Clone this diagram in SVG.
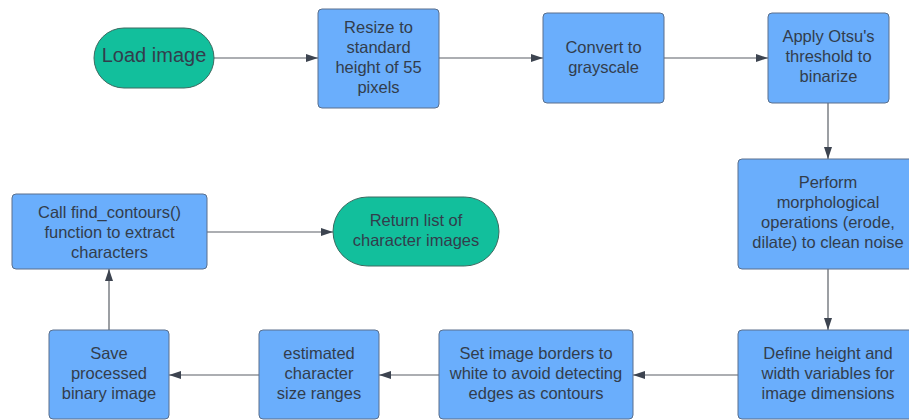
<svg xmlns="http://www.w3.org/2000/svg" width="909" height="420" viewBox="0 0 909 420">
  <defs>
    <marker id="arrow" viewBox="0 0 12 8" refX="12" refY="4" markerWidth="12" markerHeight="8" markerUnits="userSpaceOnUse" orient="auto">
      <path d="M0,0 L12,4 L0,8 Z" fill="#3d4450"/>
    </marker>
    <style>
      .box { fill: #6aaefc; stroke: #5a6f8c; stroke-width: 1; }
      .term { fill: #12bf9c; stroke: #3c6a60; stroke-width: 1; }
      .lbl { font-family: "Liberation Sans", Arial, sans-serif; font-size: 16.5px; fill: #323d4c; text-anchor: middle; }
      .big { font-size: 20px; }
      .conn { fill: none; stroke: #5a5f66; stroke-width: 1.2; marker-end: url(#arrow); }
    </style>
  </defs>
  <rect width="909" height="420" fill="#ffffff"/>

  <g id="connectors">
    <line class="conn" x1="214" y1="58" x2="318" y2="58"/>
    <line class="conn" x1="439" y1="58" x2="543" y2="58"/>
    <line class="conn" x1="664" y1="58" x2="768" y2="58"/>
    <line class="conn" x1="828" y1="103" x2="828" y2="159"/>
    <line class="conn" x1="828" y1="269" x2="828" y2="330"/>
    <line class="conn" x1="738" y1="375" x2="633" y2="375"/>
    <line class="conn" x1="439" y1="375" x2="379" y2="375"/>
    <line class="conn" x1="259" y1="375" x2="169" y2="375"/>
    <line class="conn" x1="109" y1="330" x2="109" y2="269"/>
    <line class="conn" x1="207" y1="232" x2="333" y2="232"/>
  </g>

  <g id="load-image">
    <rect class="term" x="94" y="28" width="120" height="60" rx="30"/>
    <text class="lbl big" x="154" y="62">Load image</text>
  </g>

  <g id="resize">
    <rect class="box" x="318" y="9" width="121" height="99" rx="4"/>
    <text class="lbl" x="378.5" y="33">Resize to</text>
    <text class="lbl" x="378.5" y="53">standard</text>
    <text class="lbl" x="378.5" y="73">height of 55</text>
    <text class="lbl" x="378.5" y="93">pixels</text>
  </g>

  <g id="grayscale">
    <rect class="box" x="543" y="13" width="121" height="90" rx="4"/>
    <text class="lbl" x="603.5" y="53">Convert to</text>
    <text class="lbl" x="603.5" y="73">grayscale</text>
  </g>

  <g id="otsu">
    <rect class="box" x="768" y="13" width="121" height="90" rx="4"/>
    <text class="lbl" x="828.5" y="42">Apply Otsu's</text>
    <text class="lbl" x="828.5" y="62">threshold to</text>
    <text class="lbl" x="828.5" y="82">binarize</text>
  </g>

  <g id="morphology">
    <rect class="box" x="738" y="159" width="180" height="110" rx="4"/>
    <text class="lbl" x="828" y="188">Perform</text>
    <text class="lbl" x="828" y="208">morphological</text>
    <text class="lbl" x="828" y="228">operations (erode,</text>
    <text class="lbl" x="828" y="248">dilate) to clean noise</text>
  </g>

  <g id="dimensions">
    <rect class="box" x="738" y="330" width="180" height="89" rx="4"/>
    <text class="lbl" x="828" y="359">Define height and</text>
    <text class="lbl" x="828" y="379">width variables for</text>
    <text class="lbl" x="828" y="399">image dimensions</text>
  </g>

  <g id="borders">
    <rect class="box" x="439" y="330" width="194" height="89" rx="4"/>
    <text class="lbl" x="536" y="359">Set image borders to</text>
    <text class="lbl" x="536" y="379">white to avoid detecting</text>
    <text class="lbl" x="536" y="399">edges as contours</text>
  </g>

  <g id="size-ranges">
    <rect class="box" x="259" y="330" width="120" height="89" rx="4"/>
    <text class="lbl" x="319" y="359">estimated</text>
    <text class="lbl" x="319" y="379">character</text>
    <text class="lbl" x="319" y="399">size ranges</text>
  </g>

  <g id="save">
    <rect class="box" x="49" y="330" width="120" height="89" rx="4"/>
    <text class="lbl" x="109" y="359">Save</text>
    <text class="lbl" x="109" y="379">processed</text>
    <text class="lbl" x="109" y="399">binary image</text>
  </g>

  <g id="find-contours">
    <rect class="box" x="12" y="194" width="195" height="75" rx="4"/>
    <text class="lbl" x="109.5" y="218">Call find_contours()</text>
    <text class="lbl" x="109.5" y="238">function to extract</text>
    <text class="lbl" x="109.5" y="258">characters</text>
  </g>

  <g id="return-list">
    <rect class="term" x="333" y="197" width="166" height="69" rx="34.5"/>
    <text class="lbl" x="416" y="226">Return list of</text>
    <text class="lbl" x="416" y="246">character images</text>
  </g>
</svg>
